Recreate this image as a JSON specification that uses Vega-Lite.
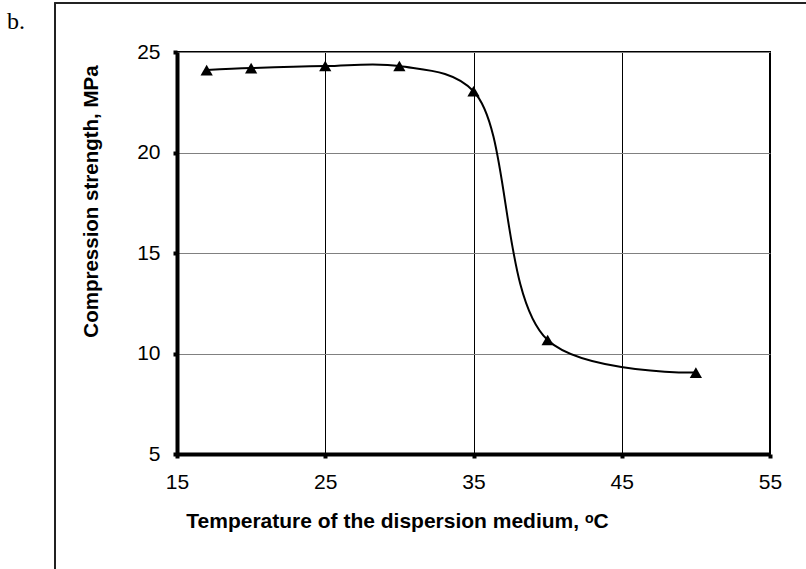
{
  "$schema": "https://vega.github.io/schema/vega-lite/v6.json",
  "width": 593,
  "height": 402,
  "autosize": {"type": "none"},
  "padding": {"left": 177, "right": 36, "top": 52, "bottom": 115},
  "background": "white",
  "title": {
    "text": "b.",
    "anchor": "start",
    "frame": "group",
    "orient": "top",
    "font": "Liberation Serif",
    "fontSize": 24,
    "fontWeight": "normal",
    "color": "black",
    "dx": -170,
    "dy": 38,
    "offset": 6
  },
  "config": {
    "view": {"stroke": "black", "strokeWidth": 2},
    "axis": {
      "labelFont": "Liberation Sans",
      "titleFont": "Liberation Sans",
      "labelColor": "black",
      "titleColor": "black",
      "domainColor": "black",
      "tickColor": "black"
    }
  },
  "data": {
    "values": [
      {"t": 17, "s": 24.1},
      {"t": 20, "s": 24.2},
      {"t": 25, "s": 24.3},
      {"t": 30, "s": 24.3},
      {"t": 35, "s": 23.05},
      {"t": 40, "s": 10.67},
      {"t": 50, "s": 9.05}
    ]
  },
  "layer": [
    {
      "mark": {"type": "rect", "fill": null, "stroke": "#222222", "strokeWidth": 1.2, "clip": false},
      "encoding": {
        "x": {"value": -122},
        "y": {"value": -49},
        "x2": {"value": 800},
        "y2": {"value": 700}
      }
    },
    {
      "mark": {"type": "line", "interpolate": "catmull-rom", "color": "black", "strokeWidth": 2},
      "encoding": {
        "x": {
          "field": "t", "type": "quantitative",
          "scale": {"domain": [15, 55], "nice": false, "zero": false},
          "axis": {
            "values": [15, 25, 35, 45, 55],
            "title": "Temperature of the dispersion medium, ᵒC",
            "titleFontSize": 21,
            "titleFontWeight": "bold",
            "titleX": 220,
            "titleY": 73,
            "titleAlign": "center",
            "titleBaseline": "alphabetic",
            "labelFontSize": 21,
            "labelPadding": 13,
            "labelFlush": false,
            "domainWidth": 4,
            "tickWidth": 4,
            "tickSize": 4,
            "grid": true,
            "gridColor": "black",
            "gridWidth": 1,
            "gridOpacity": 1
          }
        },
        "y": {
          "field": "s", "type": "quantitative",
          "scale": {"domain": [5, 25], "nice": false, "zero": false},
          "axis": {
            "values": [5, 10, 15, 20, 25],
            "title": "Compression strength, MPa",
            "titleFontSize": 20.5,
            "titleFontWeight": "bold",
            "titleX": -86,
            "titleY": 149,
            "titleAlign": "center",
            "titleBaseline": "middle",
            "labelFontSize": 21,
            "labelPadding": 13,
            "labelFlush": false,
            "domainWidth": 4,
            "tickWidth": 4,
            "tickSize": 4,
            "grid": true,
            "gridColor": "#808080",
            "gridWidth": 1,
            "gridOpacity": 1
          }
        }
      }
    },
    {
      "mark": {"type": "point", "shape": "triangle-up", "filled": true, "color": "black", "opacity": 1, "size": 150},
      "encoding": {
        "x": {"field": "t", "type": "quantitative"},
        "y": {"field": "s", "type": "quantitative"}
      }
    }
  ]
}
